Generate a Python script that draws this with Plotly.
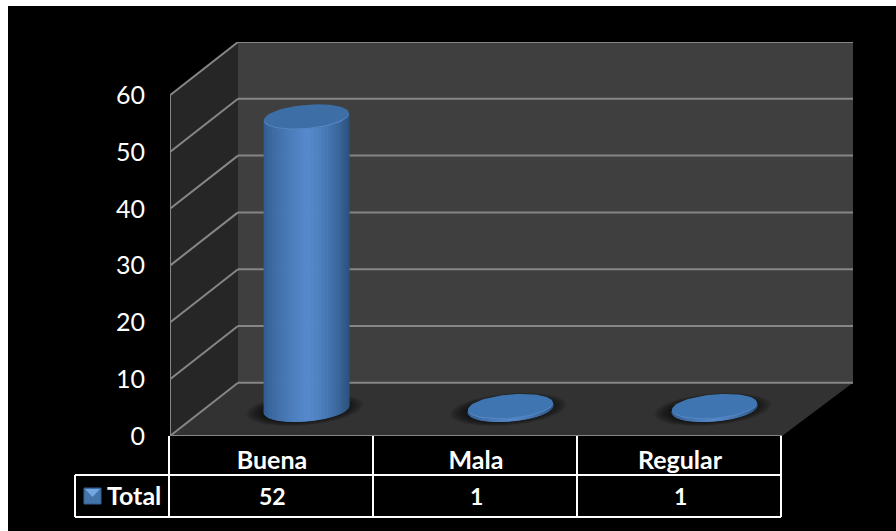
import math
import plotly.graph_objects as go

categories = ["Buena", "Mala", "Regular"]
totals = [52, 1, 1]
axis_ticks = [0, 10, 20, 30, 40, 50, 60]
series_name = "Total"

# Layout of the oblique box, in screen pixels
PLOT_LEFT, PLOT_RIGHT, PLOT_TOP, PLOT_BOTTOM = 170, 853, 42, 436
CAT_PX = 204.0
VAL_PX = 5.68
DEPTH_LEFT = 68 / CAT_PX
DEPTH_RIGHT = (PLOT_RIGHT - PLOT_LEFT - 3 * CAT_PX) / CAT_PX
DEPTH_Y = (PLOT_BOTTOM - PLOT_TOP) / VAL_PX - 60
Y_MAX = 60
FONT = "Lato"


def xp(px):
    return (px - PLOT_LEFT) / (PLOT_RIGHT - PLOT_LEFT)


def yp(py):
    return (PLOT_BOTTOM - py) / (PLOT_BOTTOM - PLOT_TOP)


def polygon(xs, ys, color, line_width=0, opacity=1.0):
    return go.Scatter(
        x=list(xs) + [xs[0]], y=list(ys) + [ys[0]], mode="lines", fill="toself",
        fillcolor=color, opacity=opacity, hoverinfo="skip", showlegend=False,
        line=dict(color=color, width=line_width),
    )


def segment(x0, y0, x1, y1, color="#868686", width=2):
    return go.Scatter(x=[x0, x1], y=[y0, y1], mode="lines", hoverinfo="skip",
                      showlegend=False, line=dict(color=color, width=width))


def mix(c0, c1, f):
    return "#" + "".join(f"{round(a + (b - a) * f):02x}" for a, b in zip(c0, c1))


fig = go.Figure()

# Box walls and floor
x0, x1 = -0.5, 2.5
back_left, back_right = x0 + DEPTH_LEFT, x1 + DEPTH_RIGHT
fig.add_trace(polygon([x0, back_left, back_right, x1], [0, DEPTH_Y, DEPTH_Y, 0], "#323232"))
fig.add_trace(polygon([x0, back_left, back_left, x0], [0, DEPTH_Y, Y_MAX + DEPTH_Y, Y_MAX], "#262626"))
fig.add_trace(polygon([back_left, back_right, back_right, back_left],
                      [DEPTH_Y, DEPTH_Y, Y_MAX + DEPTH_Y, Y_MAX + DEPTH_Y], "#3f3f3f"))

# Gridlines run along the side wall and then across the back wall
for v in axis_ticks:
    fig.add_trace(segment(x0, v, back_left, v + DEPTH_Y))
    fig.add_trace(segment(back_left, v + DEPTH_Y, back_right, v + DEPTH_Y))
fig.add_trace(segment(x0, 0, x0, Y_MAX))
fig.add_trace(segment(x0, 0, x1, 0))

# Cylinders stand at mid depth of the box
SEMI_A, SEMI_B, TILT, STRIPS = 42.5, 11.6, math.radians(5), 36
CAP_INSET = 3.5 / VAL_PX  # the rounded cap sits slightly below the nominal height
EDGE_LEFT, CENTRE, EDGE_RIGHT = (50, 92, 142), (86, 138, 205), (44, 84, 128)
TALL_CAP, FLAT_CAP = "#3d6ea6", "#3f76b2"


def ellipse_point(cx, value, t, scale=1.0):
    ex = scale * SEMI_A * math.cos(t)
    ey = scale * SEMI_B * math.sin(t)
    px = ex * math.cos(TILT) - ey * math.sin(TILT)
    py = ex * math.sin(TILT) + ey * math.cos(TILT)
    return cx + px / CAT_PX, value + py / VAL_PX


for i, total in enumerate(totals):
    cx = i + 34.5 / CAT_PX
    base = DEPTH_Y / 2
    top = base + total - CAP_INSET

    # Soft shadow on the floor
    for k in range(8):
        pts = [ellipse_point(cx, base, 2 * math.pi * j / 48, 1.38 - 0.05 * k) for j in range(48)]
        fig.add_trace(polygon([p[0] - 2 / CAT_PX for p in pts], [p[1] for p in pts],
                              "#000000", opacity=0.09))

    # Shaded side wall, built from narrow strips following the lower rim
    for s in range(STRIPS):
        t0 = math.pi + math.pi * s / STRIPS
        t1 = math.pi + math.pi * (s + 1) / STRIPS
        bottom0 = ellipse_point(cx, base, t0)
        bottom1 = ellipse_point(cx, base, t1)
        top1 = ellipse_point(cx, top, t1)
        top0 = ellipse_point(cx, top, t0)
        pos = (s + 0.5) / STRIPS
        shade = 0.5 - 0.5 * math.cos(math.pi * pos)
        color = mix(EDGE_LEFT, CENTRE, min(shade * 2, 1) ** 0.7) if shade < 0.5 else mix(CENTRE, EDGE_RIGHT, ((shade - 0.5) * 2) ** 1.4)
        fig.add_trace(polygon([bottom0[0], bottom1[0], top1[0], top0[0]],
                              [bottom0[1], bottom1[1], top1[1], top0[1]], color, line_width=1))

    # Top cap with a light bevel along the near rim only
    rim = [ellipse_point(cx, top, 2 * math.pi * j / 72) for j in range(72)]
    fig.add_trace(polygon([p[0] for p in rim], [p[1] for p in rim], "#5487c4"))
    cap = [ellipse_point(cx, top + 0.2, 2 * math.pi * j / 72) for j in range(72)]
    fig.add_trace(polygon([p[0] for p in cap], [p[1] for p in cap], TALL_CAP if total > 5 else FLAT_CAP))

# Page background and data table grid
shapes = [dict(type="rect", xref="paper", yref="paper", layer="below", line_width=0,
               fillcolor="#000000", x0=xp(8), x1=xp(896), y0=yp(531), y1=yp(6))]
TABLE_Y = [436, 475, 517]
TABLE_X = [169 + 204 * k for k in range(4)]
LEGEND_LEFT = 75


def table_line(ax, ay, bx, by):
    shapes.append(dict(type="line", xref="paper", yref="paper", x0=xp(ax), y0=yp(ay), x1=xp(bx), y1=yp(by),
                       line=dict(color="#ffffff", width=2)))


for x in TABLE_X:
    table_line(x, TABLE_Y[0], x, TABLE_Y[2])
table_line(LEGEND_LEFT, TABLE_Y[1], TABLE_X[-1], TABLE_Y[1])
table_line(LEGEND_LEFT, TABLE_Y[2], TABLE_X[-1], TABLE_Y[2])
table_line(LEGEND_LEFT, TABLE_Y[1], LEGEND_LEFT, TABLE_Y[2])

# Legend key inside the table
shapes.append(dict(type="rect", xref="paper", yref="paper", x0=xp(84), x1=xp(101), y0=yp(504), y1=yp(488),
                   fillcolor="#4374ab", line=dict(color="#365f8e", width=1)))
shapes.append(dict(type="path", xref="paper", yref="paper", line_width=0, fillcolor="#72a8e2",
                   path=f"M {xp(85)} {yp(489)} L {xp(100)} {yp(489)} L {xp(92.5)} {yp(497)} Z"))

annotations = [dict(text=series_name, xref="paper", yref="paper", x=xp(105), y=yp(495), xanchor="left",
                    yanchor="middle", showarrow=False, font=dict(family=FONT, size=25, color="#ffffff", weight=700))]
for i, total in enumerate(totals):
    annotations.append(dict(text=str(total), xref="x", yref="paper", x=i, y=yp(496), xanchor="center",
                            yanchor="middle", showarrow=False,
                            font=dict(family=FONT, size=23, color="#ffffff", weight=700)))

fig.update_layout(
    width=896, height=531, autosize=False, showlegend=False,
    margin=dict(l=PLOT_LEFT, r=896 - PLOT_RIGHT, t=PLOT_TOP, b=531 - PLOT_BOTTOM, pad=0),
    paper_bgcolor="#ffffff", plot_bgcolor="rgba(0,0,0,0)",
    shapes=shapes, annotations=annotations,
    xaxis=dict(range=[x0, back_right], tickvals=[0, 1, 2], ticktext=categories, showgrid=False,
               zeroline=False, showline=False, ticks="", ticklabelstandoff=7,
               tickfont=dict(family=FONT, size=25, color="#ffffff", weight=700), fixedrange=True),
    yaxis=dict(range=[0, Y_MAX + DEPTH_Y], tickvals=axis_ticks, showgrid=False, zeroline=False,
               showline=False, ticks="", ticklabelstandoff=24,
               tickfont=dict(family=FONT, size=25, color="#ffffff"), fixedrange=True),
)

fig.write_html("out.html", config={"displayModeBar": False})
